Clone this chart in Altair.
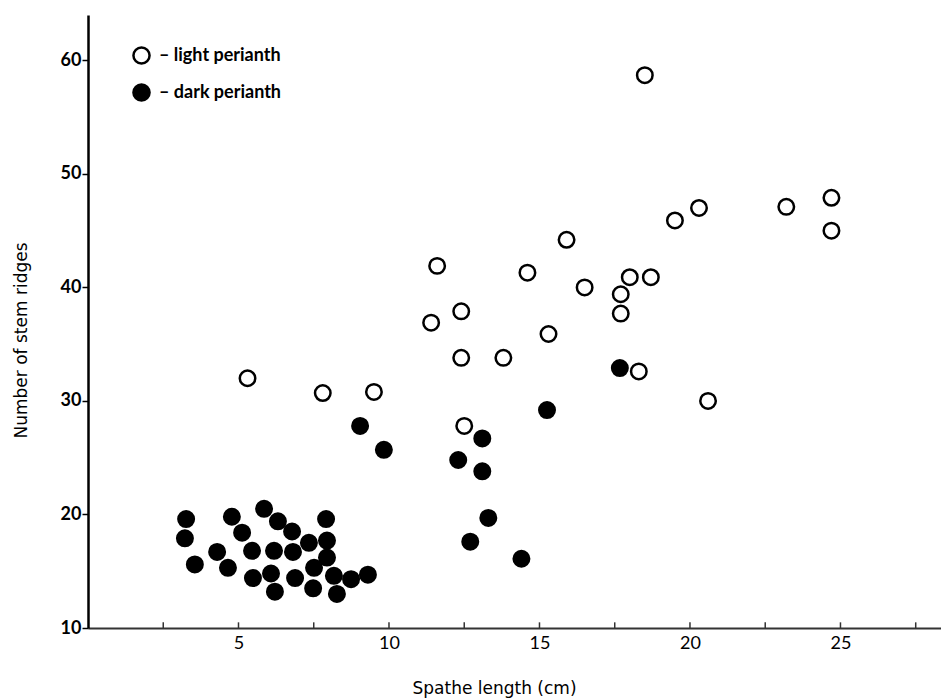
import altair as alt
import pandas as pd

# Light perianth (open circles)
light_x = [5.3, 7.8, 9.5, 11.4, 11.6, 12.4, 12.4, 12.5, 13.8, 14.6, 15.3, 15.9, 16.5,
           17.7, 17.7, 18.0, 18.7, 18.3, 18.5, 19.5, 20.3, 20.6, 23.2, 24.7, 24.7]
light_y = [32.0, 30.7, 30.8, 36.9, 41.9, 37.9, 33.8, 27.8, 33.8, 41.3, 35.9, 44.2, 40.0,
           37.7, 39.4, 40.9, 40.9, 32.6, 58.7, 45.9, 47.0, 30.0, 47.1, 47.9, 45.0]

# Dark perianth (filled circles)
dark_x = [3.26, 3.22, 3.55, 4.29, 4.65, 4.78, 5.12, 5.45, 5.48, 5.85, 6.31, 6.08, 6.21,
          6.18, 6.78, 6.81, 6.88, 7.34, 7.51, 7.48, 7.91, 7.94, 7.94, 8.17, 8.27, 8.74,
          9.30, 9.04, 9.83, 13.1, 12.3, 13.1, 15.25, 13.3, 12.7, 14.4, 17.67]
dark_y = [19.6, 17.9, 15.6, 16.7, 15.3, 19.8, 18.4, 16.8, 14.4, 20.5, 19.4, 14.8, 13.2,
          16.8, 18.5, 16.7, 14.4, 17.5, 15.3, 13.5, 19.6, 17.7, 16.2, 14.6, 13.0, 14.3,
          14.7, 27.8, 25.7, 26.7, 24.8, 23.8, 29.2, 19.7, 17.6, 16.1, 32.9]

groups = ["– light perianth", "– dark perianth"]
x_ticks = [2.5, 5, 7.5, 10, 12.5, 15, 17.5, 20, 22.5, 25, 27.5]
x_labels = [5, 10, 15, 20, 25]
y_labels = [10, 20, 30, 40, 50, 60]

df = pd.DataFrame({
    "x": light_x + dark_x,
    "y": light_y + dark_y,
    "group": [groups[0]] * len(light_x) + [groups[1]] * len(dark_x),
})
ticks_df = pd.DataFrame({"t": x_ticks, "y0": [10] * len(x_ticks), "y1": [10.5] * len(x_ticks)})

FONT = "Lato"
TFONT = "DejaVu Sans"
xscale = alt.Scale(domain=[0, 28.34], nice=False, zero=False)
yscale = alt.Scale(domain=[10, 64], nice=False, zero=False)

points = alt.Chart(df).mark_point(
    filled=True, shape="circle", size=240, stroke="black", strokeWidth=2.5, opacity=1, fillOpacity=1
).encode(
    x=alt.X("x:Q", scale=xscale,
            axis=alt.Axis(values=x_labels, title="Spathe length (cm)", grid=False,
                          tickSize=0, domainColor="#333", domainWidth=2,
                          labelFont=FONT, labelFontSize=18, labelColor="black", labelPadding=6,
                          titleFont=TFONT, titleFontSize=17, titleFontWeight="normal",
                          titleColor="black", titlePadding=28, titleX=406)),
    y=alt.Y("y:Q", scale=yscale,
            axis=alt.Axis(values=y_labels, title="Number of stem ridges", grid=False,
                          tickSize=6, tickColor="black", tickWidth=1.5,
                          domainColor="black", domainWidth=2.5,
                          labelFont=FONT, labelFontSize=18, labelFontWeight="bold",
                          labelColor="black", labelPadding=1,
                          titleFont=TFONT, titleFontSize=17, titleFontWeight="normal",
                          titleColor="black", titlePadding=30, titleY=325)),
    fill=alt.Fill("group:N", scale=alt.Scale(domain=groups, range=["white", "black"]),
                  legend=alt.Legend(title=None, orient="none", legendX=44, legendY=31,
                                    symbolType="circle", symbolSize=260,
                                    symbolStrokeColor="black", symbolStrokeWidth=2.5,
                                    labelFont=FONT, labelFontSize=18, labelFontWeight="bold",
                                    labelColor="black", rowPadding=10, labelOffset=8)),
)

tick_marks = alt.Chart(ticks_df).mark_rule(color="#333", strokeWidth=1.5).encode(
    x=alt.X("t:Q", scale=xscale),
    y=alt.Y("y0:Q", scale=yscale),
    y2="y1:Q",
)

chart = alt.layer(tick_marks, points).properties(
    width=853, height=613,
    background="white",
    autosize=alt.AutoSizeParams(type="none"),
    padding={"left": 80, "top": 7, "right": 0, "bottom": 74},
).configure_view(stroke=None)

chart.save("out.html", embed_options={"renderer": "svg", "actions": False})
